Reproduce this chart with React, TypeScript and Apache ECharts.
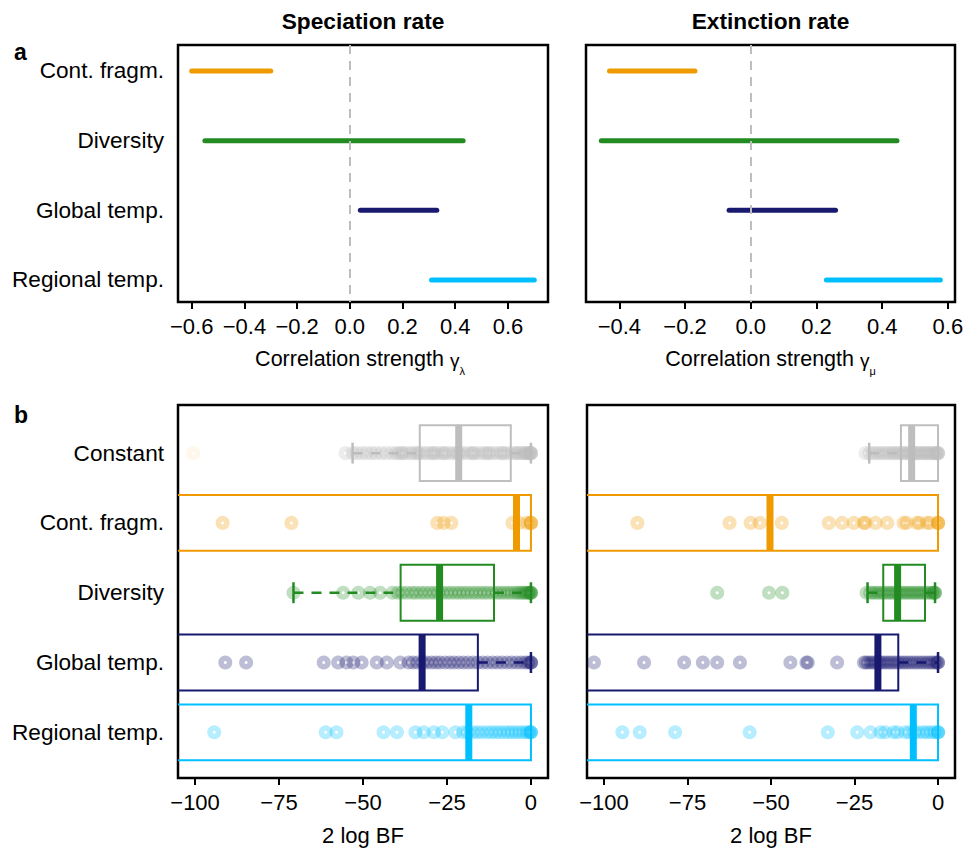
import React, { useEffect, useRef } from "react";
import * as echarts from "echarts";

// ---------- categories ----------
const CATS_TOP = ["Cont. fragm.", "Diversity", "Global temp.", "Regional temp."];
const CATS_BOTTOM = ["Constant", "Cont. fragm.", "Diversity", "Global temp.", "Regional temp."];

// ---------- panel a: correlation intervals ----------
const specLow = [-0.6, -0.55, 0.04, 0.31];
const specHigh = [-0.3, 0.43, 0.33, 0.7];
const extLow = [-0.43, -0.455, -0.066, 0.23];
const extHigh = [-0.17, 0.445, 0.258, 0.577];

// ---------- panel b: box statistics (2 log BF) ----------
const specQ1 = [-33.1, -120, -38.8, -120, -120];
const specMedian = [-21.5, -4.3, -27.2, -32.4, -18.5];
const specQ3 = [-6.0, 0, -11.0, -15.8, 0];
const specWhiskerLow = [-53.1, -120, -70.7, -120, -120];
const specWhiskerHigh = [0, 0, 0, 0, 0];

const extQ1 = [-11.1, -120, -16.4, -120, -120];
const extMedian = [-7.9, -50.3, -12.1, -18.0, -7.4];
const extQ3 = [0, 0, -3.9, -11.9, 0];
const extWhiskerLow = [-20.6, -120, -21.1, -120, -120];
const extWhiskerHigh = [0, 0, -0.9, 0, 0];

// ---------- panel b: individual points ----------
const specConstantPts = [-55.2, -53.1, -51.8, -50.3, -48.9, -47.5, -46.2, -44.6, -43.1, -41.5, -40.2, -39.4, -38.5, -38.1, -37.3, -36.0, -35.2, -34.1, -33.6, -33.0, -31.8, -30.9, -29.7, -29.2, -28.6, -27.8, -26.5, -25.9, -25.4, -24.3, -23.1, -22.2, -21.6, -21.0, -20.1, -18.8, -17.7, -17.2, -16.9, -15.6, -14.4, -13.5, -12.8, -12.3, -11.2, -10.1, -9.0, -8.4, -7.9, -6.8, -5.7, -4.6, -4.1, -3.8, -2.9, -2.1, -1.9, -1.4, -0.8, -0.5, -0.3, 0, 0, 0, 0];
const specConstantOutlier = [-100.5];
const specContFragmPts = [-91.8, -71.3, -27.9, -26.0, -23.7, -5.5, -3.5, -1.2, 0, 0, 0];
const specDiversityPts = [-70.7, -55.9, -51.4, -47.9, -44.9, -41.2, -39.6, -38.3, -36.9, -35.4, -34.2, -32.8, -31.5, -30.1, -28.8, -27.6, -26.3, -25.0, -23.8, -22.5, -21.3, -20.1, -18.9, -17.6, -16.4, -15.1, -13.9, -12.7, -11.4, -10.2, -9.1, -8.0, -6.9, -5.8, -4.7, -3.9, -3.1, -2.4, -1.8, -1.2, -0.7, -0.3, 0, 0, 0];
const specGlobalPts = [-91.0, -84.8, -61.7, -57.4, -54.9, -52.9, -50.4, -45.9, -42.9, -38.9, -36.4, -35.1, -33.7, -32.2, -31.0, -29.6, -28.3, -27.1, -25.6, -24.2, -22.9, -21.5, -20.1, -18.7, -17.2, -15.8, -14.3, -12.9, -11.4, -10.0, -8.6, -7.1, -5.7, -4.3, -3.0, -1.8, -0.9, 0, 0, 0];
const specRegionalPts = [-94.3, -61.1, -57.9, -43.9, -39.9, -34.4, -31.9, -28.9, -26.4, -22.5, -20.2, -18.8, -17.3, -15.9, -14.6, -13.1, -11.8, -10.5, -9.3, -8.0, -6.8, -5.7, -4.5, -3.4, -2.3, -1.3, -0.5, 0, 0, 0];

const extConstantPts = [-21.7, -20.5, -19.6, -18.7, -17.9, -17.0, -16.2, -15.4, -14.6, -13.8, -13.1, -12.4, -11.7, -11.0, -10.4, -9.8, -9.2, -8.6, -8.0, -7.4, -6.9, -6.3, -5.8, -5.2, -4.7, -4.1, -3.6, -3.1, -2.6, -2.1, -1.6, -1.1, -0.6, -0.2, 0, 0, 0];
const extContFragmPts = [-90.0, -62.4, -56.1, -53.3, -46.8, -32.7, -28.7, -25.2, -22.2, -21.8, -18.7, -15.2, -10.3, -9.4, -6.3, -5.6, -3.3, -2.4, 0, 0, 0];
const extDiversityPts = [-66.1, -50.6, -46.6, -21.4, -20.3, -19.5, -18.6, -17.8, -16.9, -16.1, -15.2, -14.4, -13.6, -12.8, -12.0, -11.2, -10.4, -9.6, -8.8, -8.0, -7.2, -6.4, -5.6, -4.8, -4.0, -3.2, -2.4, -1.7, -1.2, -0.9, -0.9];
const extGlobalPts = [-103.0, -88.0, -76.0, -70.4, -66.1, -59.3, -44.2, -39.4, -39.0, -30.2, -22.2, -21.6, -20.9, -20.1, -19.4, -18.6, -17.8, -17.1, -16.3, -15.5, -14.7, -13.9, -13.0, -12.2, -11.4, -10.5, -9.7, -8.8, -7.9, -7.0, -6.1, -5.2, -4.3, -3.4, -2.6, -1.8, -1.0, -0.4, 0, 0];
const extRegionalPts = [-94.5, -89.3, -78.7, -56.4, -33.0, -24.2, -20.2, -17.2, -15.8, -13.3, -12.1, -9.8, -8.6, -7.0, -5.9, -4.4, -3.3, -2.2, -1.1, 0, 0, 0];

// ---------- tick labels ----------
const specTicks = [-0.6, -0.4, -0.2, 0, 0.2, 0.4, 0.6];
const extTicks = [-0.4, -0.2, 0, 0.2, 0.4, 0.6];
const bfTicks = [-100, -75, -50, -25, 0];

// ---------- styling ----------
const COLORS = ["#BEBEBE", "#EE9A00", "#228B22", "#191970", "#00BFFF"];
const FONT = "'Liberation Sans', Arial, Helvetica, sans-serif";
const PT_ALPHA = 0.36;

function rgba(hex: string, a: number) {
  const n = parseInt(hex.slice(1), 16);
  return `rgba(${(n >> 16) & 255},${(n >> 8) & 255},${n & 255},${a})`;
}
function minus(s: string) {
  return s.replace("-", "\u2212");
}
function textWidth(s: string, size: number, weight = "normal") {
  const c = document.createElement("canvas").getContext("2d");
  if (!c) return s.length * size * 0.5;
  c.font = `${weight} ${size}px ${FONT}`;
  return c.measureText(s).width;
}

function buildOption() {
  const gridBase = { show: true, borderColor: "#000", borderWidth: 2.5, backgroundColor: "transparent", containLabel: false };
  const grids = [
    { ...gridBase, left: 178, top: 45, width: 370, height: 257 },
    { ...gridBase, left: 586, top: 45, width: 369, height: 257 },
    { ...gridBase, left: 178, top: 405, width: 370, height: 373 },
    { ...gridBase, left: 587, top: 405, width: 368, height: 373 },
  ];

  const xBase = (gridIndex: number, min: number, max: number, ticks: number[], fmt: (v: number) => string) => ({
    type: "value",
    gridIndex,
    min,
    max,
    axisLine: { show: false },
    splitLine: { show: false },
    axisTick: { show: true, length: 7, inside: false, customValues: ticks, lineStyle: { color: "#000", width: 2 } },
    axisLabel: { show: true, customValues: ticks, formatter: fmt, fontSize: 22, fontFamily: FONT, color: "#000", margin: 13 },
  });
  const fmt1 = (v: number) => minus(Number(v).toFixed(1));
  const fmt0 = (v: number) => minus(String(Math.round(v)));

  const xAxis = [
    xBase(0, -0.652, 0.752, specTicks, fmt1),
    xBase(1, -0.5016, 0.6216, extTicks, fmt1),
    xBase(2, -105.08, 5.08, bfTicks, fmt0),
    xBase(3, -105.08, 5.08, bfTicks, fmt0),
  ];

  const yBase = (gridIndex: number, min: number, max: number, cats: string[] | null) => ({
    type: "value",
    gridIndex,
    min,
    max,
    inverse: true,
    axisLine: { show: false },
    axisTick: { show: false },
    splitLine: { show: false },
    axisLabel: cats
      ? {
          show: true,
          customValues: cats.map((_, i) => i + 1),
          formatter: (v: number) => cats[Math.round(v) - 1] || "",
          fontSize: 22.6,
          fontFamily: FONT,
          color: "#000",
          margin: 14,
        }
      : { show: false },
  });
  const yAxis = [
    yBase(0, 0.627, 4.316, CATS_TOP),
    yBase(1, 0.627, 4.316, null),
    yBase(2, 0.31, 5.655, CATS_BOTTOM),
    yBase(3, 0.31, 5.655, null),
  ];

  const series: any[] = [];

  // panel a segments
  const segPanels = [
    { lo: specLow, hi: specHigh, idx: 0 },
    { lo: extLow, hi: extHigh, idx: 1 },
  ];
  segPanels.forEach((p) => {
    p.lo.forEach((lo, i) => {
      series.push({
        type: "line",
        xAxisIndex: p.idx,
        yAxisIndex: p.idx,
        data: [
          [lo, i + 1],
          [p.hi[i], i + 1],
        ],
        symbol: "none",
        silent: true,
        lineStyle: { color: COLORS[i + 1], width: 5, cap: "round" },
      });
    });
    series.push({
      type: "line",
      xAxisIndex: p.idx,
      yAxisIndex: p.idx,
      data: [[0, 1]],
      symbol: "none",
      silent: true,
      lineStyle: { width: 0 },
      markLine: {
        symbol: "none",
        silent: true,
        label: { show: false },
        lineStyle: { color: "#BEBEBE", width: 2, type: [9, 7] },
        data: [{ xAxis: 0 }],
      },
    });
  });

  // panel b boxes
  const boxPanels = [
    { q1: specQ1, med: specMedian, q3: specQ3, wlo: specWhiskerLow, whi: specWhiskerHigh, idx: 2 },
    { q1: extQ1, med: extMedian, q3: extQ3, wlo: extWhiskerLow, whi: extWhiskerHigh, idx: 3 },
  ];
  boxPanels.forEach((p) => {
    series.push({
      type: "custom",
      xAxisIndex: p.idx,
      yAxisIndex: p.idx,
      silent: true,
      encode: { x: [1, 2, 3, 4, 5], y: 0 },
      data: p.q1.map((q1, i) => [i + 1, q1, p.med[i], p.q3[i], p.wlo[i], p.whi[i]]),
      renderItem: (params: any, api: any) => {
        const row = api.value(0);
        const q1 = api.value(1);
        const med = api.value(2);
        const q3 = api.value(3);
        const wlo = api.value(4);
        const whi = api.value(5);
        const cs = params.coordSys;
        const xL = cs.x;
        const color = COLORS[params.dataIndex];
        const px = (v: number) => api.coord([v, row])[0];
        const yc = api.coord([0, row])[1];
        const half = Math.abs(api.coord([0, row + 0.4])[1] - yc);
        const staple = Math.abs(api.coord([0, row + 0.15])[1] - yc);
        const children: any[] = [];
        const x1 = px(q1);
        const x3 = px(q3);
        const xa = Math.max(x1, xL);
        const yT = yc - half;
        const yB = yc + half;
        const boxStyle = { stroke: color, lineWidth: 2, fill: "none", lineJoin: "miter" };
        if (wlo < q1 && px(wlo) >= xL) {
          children.push({ type: "line", shape: { x1: px(wlo), y1: yc, x2: x1, y2: yc }, style: { stroke: color, lineWidth: 2.5, lineDash: [10, 8] } });
          children.push({ type: "line", shape: { x1: px(wlo), y1: yc - staple, x2: px(wlo), y2: yc + staple }, style: { stroke: color, lineWidth: 2.5 } });
        }
        if (whi > q3) {
          children.push({ type: "line", shape: { x1: x3, y1: yc, x2: px(whi), y2: yc }, style: { stroke: color, lineWidth: 2.5, lineDash: [10, 8] } });
          children.push({ type: "line", shape: { x1: px(whi), y1: yc - staple, x2: px(whi), y2: yc + staple }, style: { stroke: color, lineWidth: 2.5 } });
        }
        if (x1 >= xL) {
          children.push({ type: "polygon", shape: { points: [[x1, yT], [x3, yT], [x3, yB], [x1, yB]] }, style: boxStyle });
        } else {
          children.push({ type: "polyline", shape: { points: [[xa, yT], [x3, yT], [x3, yB], [xa, yB]] }, style: boxStyle });
        }
        children.push({ type: "line", shape: { x1: px(med), y1: yT, x2: px(med), y2: yB }, style: { stroke: color, lineWidth: 7 } });
        return { type: "group", children };
      },
    });
  });

  // panel b points
  const ptPanels = [
    { rows: [specConstantPts, specContFragmPts, specDiversityPts, specGlobalPts, specRegionalPts], idx: 2 },
    { rows: [extConstantPts, extContFragmPts, extDiversityPts, extGlobalPts, extRegionalPts], idx: 3 },
  ];
  ptPanels.forEach((p) => {
    p.rows.forEach((vals, i) => {
      series.push({
        type: "scatter",
        xAxisIndex: p.idx,
        yAxisIndex: p.idx,
        silent: true,
        symbol: "circle",
        symbolSize: 8.5,
        data: vals.map((v) => [v, i + 1]),
        itemStyle: { color: "rgba(0,0,0,0)", borderColor: rgba(COLORS[i], PT_ALPHA), borderWidth: 5.5 },
      });
    });
  });
  series.push({
    type: "scatter",
    xAxisIndex: 2,
    yAxisIndex: 2,
    silent: true,
    symbol: "circle",
    symbolSize: 8.5,
    data: specConstantOutlier.map((v) => [v, 1]),
    itemStyle: { color: "rgba(0,0,0,0)", borderColor: rgba(COLORS[1], 0.1), borderWidth: 5.5 },
  });

  // texts
  const graphic: any[] = [];
  const txt = (text: string, x: number, y: number, size: number, weight: string, align: string) => ({
    type: "text",
    x,
    y,
    silent: true,
    style: {
      text,
      fill: "#000",
      fontSize: size,
      fontWeight: weight,
      fontFamily: FONT,
      align,
      verticalAlign: "middle",
      textAlign: align,
      textVerticalAlign: "middle",
    },
  });
  graphic.push(txt("Speciation rate", 363, 21, 22.7, "bold", "center"));
  graphic.push(txt("Extinction rate", 770.5, 21, 22.7, "bold", "center"));
  graphic.push(txt("a", 14, 52, 23, "bold", "left"));
  graphic.push(txt("b", 14, 415, 23, "bold", "left"));
  graphic.push(txt("2 log BF", 363, 835, 22, "normal", "center"));
  graphic.push(txt("2 log BF", 771, 835, 22, "normal", "center"));

  const nameWithSub = (cx: number, sub: string) => {
    const main = "Correlation strength ";
    const w1 = textWidth(main, 21.5);
    const w2 = textWidth("\u03B3", 19);
    const w3 = textWidth(sub, 11);
    const start = cx - (w1 + w2 + w3) / 2;
    graphic.push(txt(main, start, 359, 21.5, "normal", "left"));
    graphic.push(txt("\u03B3", start + w1, 360, 19, "normal", "left"));
    graphic.push(txt(sub, start + w1 + w2, 371, 11, "normal", "left"));
  };
  nameWithSub(360, "\u03BB");
  nameWithSub(770.5, "\u03BC");

  return {
    animation: false,
    backgroundColor: "#fff",
    grid: grids,
    xAxis,
    yAxis,
    series,
    graphic,
  };
}

export default function App() {
  const ref = useRef<HTMLDivElement>(null);
  useEffect(() => {
    if (!ref.current) return;
    const chart = echarts.init(ref.current, null, { renderer: "svg" });
    chart.setOption(buildOption() as any);
    return () => chart.dispose();
  }, []);
  return <div ref={ref} style={{ position: "absolute", left: 0, top: 0, width: 968, height: 851 }} />;
}
